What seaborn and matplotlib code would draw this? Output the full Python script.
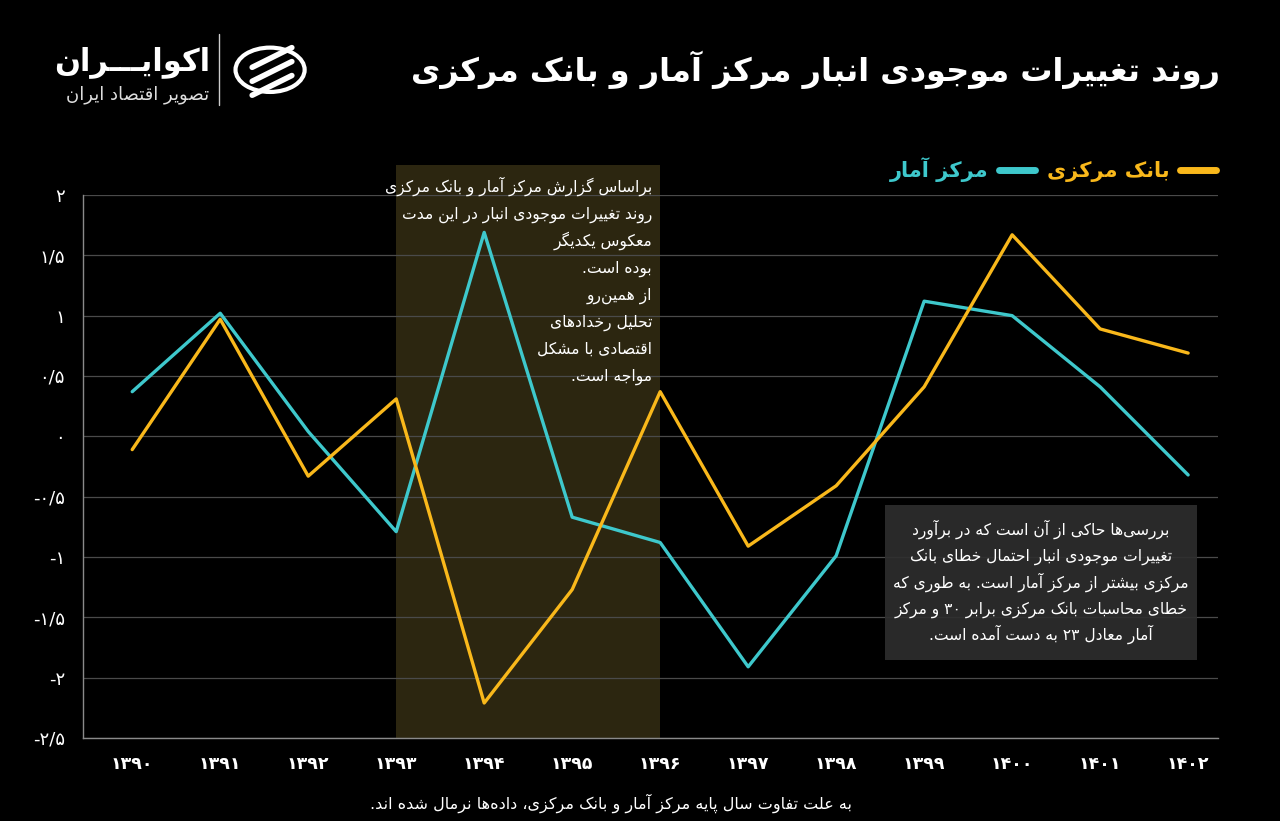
import re
import numpy as np
import pandas as pd
import matplotlib
matplotlib.use("Agg")
import matplotlib.pyplot as plt
import seaborn as sns
from matplotlib.lines import Line2D
from matplotlib.patches import Circle, Rectangle

# ---------------- data ----------------
years = ['۱۳۹۰', '۱۳۹۱', '۱۳۹۲', '۱۳۹۳', '۱۳۹۴', '۱۳۹۵', '۱۳۹۶',
         '۱۳۹۷', '۱۳۹۸', '۱۳۹۹', '۱۴۰۰', '۱۴۰۱', '۱۴۰۲']
amar = [0.37, 1.02, 0.04, -0.79, 1.69, -0.67, -0.88, -1.91, -0.99, 1.12, 1.00, 0.41, -0.32]
bank = [-0.11, 0.97, -0.33, 0.31, -2.21, -1.27, 0.37, -0.91, -0.41, 0.41, 1.67, 0.89, 0.69]
y_ticks = [-2.5, -2.0, -1.5, -1.0, -0.5, 0.0, 0.5, 1.0, 1.5, 2.0]
y_tick_labels = ['-۲/۵', '-۲', '-۱/۵', '-۱', '-۰/۵', '۰', '۰/۵', '۱', '۱/۵', '۲']
series_names = ['مرکز آمار', 'بانک مرکزی']
highlight_span = (3, 6)

title = 'روند تغییرات موجودی انبار مرکز آمار و بانک مرکزی'
note_left = ['براساس گزارش مرکز آمار و بانک مرکزی',
             'روند تغییرات موجودی انبار در این مدت',
             'معکوس یکدیگر',
             'بوده است.',
             'از همین\u200cرو',
             'تحلیل رخدادهای',
             'اقتصادی با مشکل',
             'مواجه است.']
note_right = ['بررسی\u200cها حاکی از آن است که در برآورد',
              'تغییرات موجودی انبار احتمال خطای بانک',
              'مرکزی بیشتر از مرکز آمار است. به طوری که',
              'خطای محاسبات بانک مرکزی برابر ۳۰ و مرکز',
              'آمار معادل ۲۳ به دست آمده است.']
footer = 'به علت تفاوت سال پایه مرکز آمار و بانک مرکزی، داده\u200cها نرمال شده اند.'
logo_name = 'اکوایـــران'
logo_sub = 'تصویر اقتصاد ایران'

# ---------------- minimal Persian shaping ----------------
# (isolated, final, initial, medial)
FORMS = {
    '\u0627': ('\uFE8D', '\uFE8E', None, None),
    '\u0622': ('\uFE81', '\uFE82', None, None),
    '\u0628': ('\uFE8F', '\uFE90', '\uFE91', '\uFE92'),
    '\u067E': ('\uFB56', '\uFB57', '\uFB58', '\uFB59'),
    '\u062A': ('\uFE95', '\uFE96', '\uFE97', '\uFE98'),
    '\u062B': ('\uFE99', '\uFE9A', '\uFE9B', '\uFE9C'),
    '\u062C': ('\uFE9D', '\uFE9E', '\uFE9F', '\uFEA0'),
    '\u0686': ('\uFB7A', '\uFB7B', '\uFB7C', '\uFB7D'),
    '\u062D': ('\uFEA1', '\uFEA2', '\uFEA3', '\uFEA4'),
    '\u062E': ('\uFEA5', '\uFEA6', '\uFEA7', '\uFEA8'),
    '\u062F': ('\uFEA9', '\uFEAA', None, None),
    '\u0630': ('\uFEAB', '\uFEAC', None, None),
    '\u0631': ('\uFEAD', '\uFEAE', None, None),
    '\u0632': ('\uFEAF', '\uFEB0', None, None),
    '\u0698': ('\uFB8A', '\uFB8B', None, None),
    '\u0633': ('\uFEB1', '\uFEB2', '\uFEB3', '\uFEB4'),
    '\u0634': ('\uFEB5', '\uFEB6', '\uFEB7', '\uFEB8'),
    '\u0635': ('\uFEB9', '\uFEBA', '\uFEBB', '\uFEBC'),
    '\u0636': ('\uFEBD', '\uFEBE', '\uFEBF', '\uFEC0'),
    '\u0637': ('\uFEC1', '\uFEC2', '\uFEC3', '\uFEC4'),
    '\u0638': ('\uFEC5', '\uFEC6', '\uFEC7', '\uFEC8'),
    '\u0639': ('\uFEC9', '\uFECA', '\uFECB', '\uFECC'),
    '\u063A': ('\uFECD', '\uFECE', '\uFECF', '\uFED0'),
    '\u0641': ('\uFED1', '\uFED2', '\uFED3', '\uFED4'),
    '\u0642': ('\uFED5', '\uFED6', '\uFED7', '\uFED8'),
    '\u06A9': ('\uFB8E', '\uFB8F', '\uFB90', '\uFB91'),
    '\u06AF': ('\uFB92', '\uFB93', '\uFB94', '\uFB95'),
    '\u0644': ('\uFEDD', '\uFEDE', '\uFEDF', '\uFEE0'),
    '\u0645': ('\uFEE1', '\uFEE2', '\uFEE3', '\uFEE4'),
    '\u0646': ('\uFEE5', '\uFEE6', '\uFEE7', '\uFEE8'),
    '\u0647': ('\uFEE9', '\uFEEA', '\uFEEB', '\uFEEC'),
    '\u0648': ('\uFEED', '\uFEEE', None, None),
    '\u06CC': ('\uFBFC', '\uFBFD', '\uFBFE', '\uFBFF'),
    '\u0626': ('\uFE89', '\uFE8A', '\uFE8B', '\uFE8C'),
    '\u0640': ('\u0640', '\u0640', '\u0640', '\u0640'),
}
LAM_ALEF = {'\u0627': ('\uFEFB', '\uFEFC'), '\u0622': ('\uFEF5', '\uFEF6')}


def dual(c):
    return c in FORMS and FORMS[c][2] is not None


def shape_line(s):
    out = []
    i = 0
    n = len(s)
    while i < n:
        c = s[i]
        if c not in FORMS:
            if c != '\u200c':
                out.append(c)
            i += 1
            continue
        prev = s[i - 1] if i > 0 else ''
        jp = dual(prev)
        if c == '\u0644' and i + 1 < n and s[i + 1] in LAM_ALEF:
            iso, fin = LAM_ALEF[s[i + 1]]
            out.append(fin if jp else iso)
            i += 2
            continue
        nxt = s[i + 1] if i + 1 < n else ''
        jn = dual(c) and nxt in FORMS
        iso, fin, ini, med = FORMS[c]
        if jp and jn:
            out.append(med)
        elif jp:
            out.append(fin)
        elif jn:
            out.append(ini)
        else:
            out.append(iso)
        i += 1
    vis = ''.join(out)[::-1]
    vis = re.sub(r'[0-9\u06F0-\u06F9]+', lambda m: m.group()[::-1], vis)
    return vis


def fa(text):
    if isinstance(text, (list, tuple)):
        return '\n'.join(shape_line(t) for t in text)
    return '\n'.join(shape_line(t) for t in text.split('\n'))


# ---------------- style ----------------
BG = '#000000'
CYAN = '#3ec8cc'
YELLOW = '#f9b81b'
sns.set_theme(style='dark')
plt.rcParams['font.family'] = ['DejaVu Sans']
plt.rcParams['axes.unicode_minus'] = False

W, H = 1280, 821
fig = plt.figure(figsize=(12.8, 8.21), dpi=100, facecolor=BG)
ax = fig.add_axes([0.0648, 0.1011, 0.8868, 0.6614])
ax.set_facecolor(BG)

x = np.arange(len(years))
df = pd.DataFrame({'x': np.concatenate([x, x]),
                   'value': amar + bank,
                   'series': [series_names[0]] * len(x) + [series_names[1]] * len(x)})

ax.axvspan(highlight_span[0], highlight_span[1], ymin=0, ymax=1.055,
           color='#2c2610', lw=0, zorder=0.5, clip_on=False)

sns.lineplot(data=df, x='x', y='value', hue='series',
             palette={series_names[0]: CYAN, series_names[1]: YELLOW},
             linewidth=2.4, ax=ax, legend=False, zorder=3)

ax.set_xlim(-0.56, 12.34)
ax.set_ylim(-2.5, 2.0)
ax.set_yticks(y_ticks)
ax.set_yticklabels(y_tick_labels, color='white', fontsize=13)
ax.set_xticks(x)
ax.set_xticklabels(years, color='white', fontsize=12.5, fontweight='bold')
ax.tick_params(axis='x', length=0, pad=12)
ax.tick_params(axis='y', length=0, pad=13)
ax.set_xlabel('')
ax.set_ylabel('')
ax.grid(axis='y', color='#4a4a4a', linewidth=0.9)
ax.grid(axis='x', visible=False)
for side in ['top', 'right']:
    ax.spines[side].set_visible(False)
for side in ['left', 'bottom']:
    ax.spines[side].set_visible(True)
    ax.spines[side].set_color('#8a8a8a')
    ax.spines[side].set_linewidth(1.0)

# legend
handles = [Line2D([], [], color=CYAN, lw=5, solid_capstyle='round'),
           Line2D([], [], color=YELLOW, lw=5, solid_capstyle='round')]
leg = ax.legend(handles, [fa(series_names[0]), fa(series_names[1])], ncol=2,
                markerfirst=False, frameon=False, loc='center right',
                bbox_to_anchor=(0.998, 1.046), borderaxespad=0, borderpad=0,
                handlelength=1.7, columnspacing=0.6, handletextpad=0.5,
                labelcolor=[CYAN, YELLOW], prop={'weight': 'bold', 'size': 15})

# left note (inside highlighted period)
for k, line in enumerate(note_left):
    yc = 187 + 26.9 * k
    fig.text(652 / W, 1 - (yc + 5) / H, shape_line(line), ha='right', va='baseline',
             color='white', fontsize=11.2, zorder=5)

# right note box
box = Rectangle((885 / W, 1 - 660 / H), 312 / W, 155 / H, transform=fig.transFigure,
                fc='#2e2e2e', ec='none', alpha=0.9, zorder=1)
fig.add_artist(box)
for k, line in enumerate(note_right):
    yc = 530 + 26.2 * k
    fig.text(1041 / W, 1 - (yc + 5) / H, shape_line(line), ha='center', va='baseline',
             color='white', fontsize=11.2, zorder=5)

# title, footer, logo
fig.text(0.953, 0.915, fa(title), ha='right', va='center', color='white',
         fontsize=23, fontweight='bold')
fig.text(0.477, 0.022, fa(footer), ha='center', va='center', color='white', fontsize=11.5)
fig.text(0.164, 0.924, fa(logo_name), ha='right', va='center', color='white',
         fontsize=22, fontweight='bold')
fig.text(0.163, 0.885, fa(logo_sub), ha='right', va='center', color='#dddddd', fontsize=13)
fig.add_artist(Line2D([0.1711, 0.1711], [0.872, 0.958], transform=fig.transFigure,
                      color='#cccccc', lw=1))
icon = Circle((0.211, 0.915), 0.027, transform=fig.transFigure, fc='none', ec='white', lw=3)
fig.add_artist(icon)
for k in range(3):
    yy = 0.93 - k * 0.017
    fig.add_artist(Line2D([0.197, 0.228], [yy - 0.012, yy + 0.012], transform=fig.transFigure,
                          color='white', lw=4, solid_capstyle='round'))

fig.savefig('out.png', dpi=100, facecolor=BG)
